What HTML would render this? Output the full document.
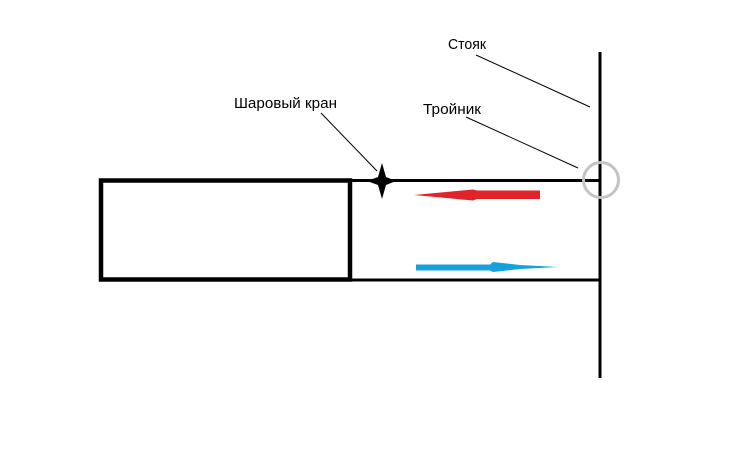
<!DOCTYPE html>
<html><head><meta charset="utf-8"><style>
html,body{margin:0;padding:0;background:#fff;}
svg{display:block}
text{font-family:"Liberation Sans","DejaVu Sans",sans-serif;font-size:15px;fill:#000}
</style></head><body>
<svg width="734" height="462" viewBox="0 0 734 462" xmlns="http://www.w3.org/2000/svg">
<rect x="0" y="0" width="734" height="462" fill="#fff"/>
<line x1="600" y1="52" x2="600" y2="378" stroke="#000" stroke-width="3"/>
<line x1="350" y1="180.5" x2="600" y2="180.5" stroke="#000" stroke-width="3"/>
<line x1="350" y1="280" x2="600" y2="280" stroke="#000" stroke-width="3"/>
<rect x="101" y="180.5" width="249" height="99" fill="none" stroke="#000" stroke-width="4.5"/>
<circle cx="601" cy="180" r="17.5" fill="none" stroke="#c3c3c3" stroke-width="3"/>
<path d="M382,163 L386,177 L396,181 L386,185 L382,199 L378,185 L367,181 L378,177 Z" fill="#000"/>
<path d="M414,195 L473,189.5 L477,190.5 L540,190.5 L540,199 L477,199 L473,200.5 Z" fill="#e0242a"/>
<path d="M416,264.5 L490,264.5 L493,262 L520,265 L558,267 L520,269 L493,272 L490,270.5 L416,270.5 Z" fill="#16a0dc"/>
<line x1="476" y1="55" x2="590" y2="107" stroke="#000" stroke-width="1"/>
<line x1="466" y1="117" x2="578" y2="168" stroke="#000" stroke-width="1"/>
<line x1="321" y1="113" x2="377" y2="171" stroke="#000" stroke-width="1"/>
<text x="448" y="49" textLength="38" lengthAdjust="spacingAndGlyphs">Стояк</text>
<text x="234" y="108" textLength="103" lengthAdjust="spacingAndGlyphs">Шаровый кран</text>
<text x="423" y="114" textLength="58" lengthAdjust="spacingAndGlyphs">Тройник</text>
</svg>
</body></html>
